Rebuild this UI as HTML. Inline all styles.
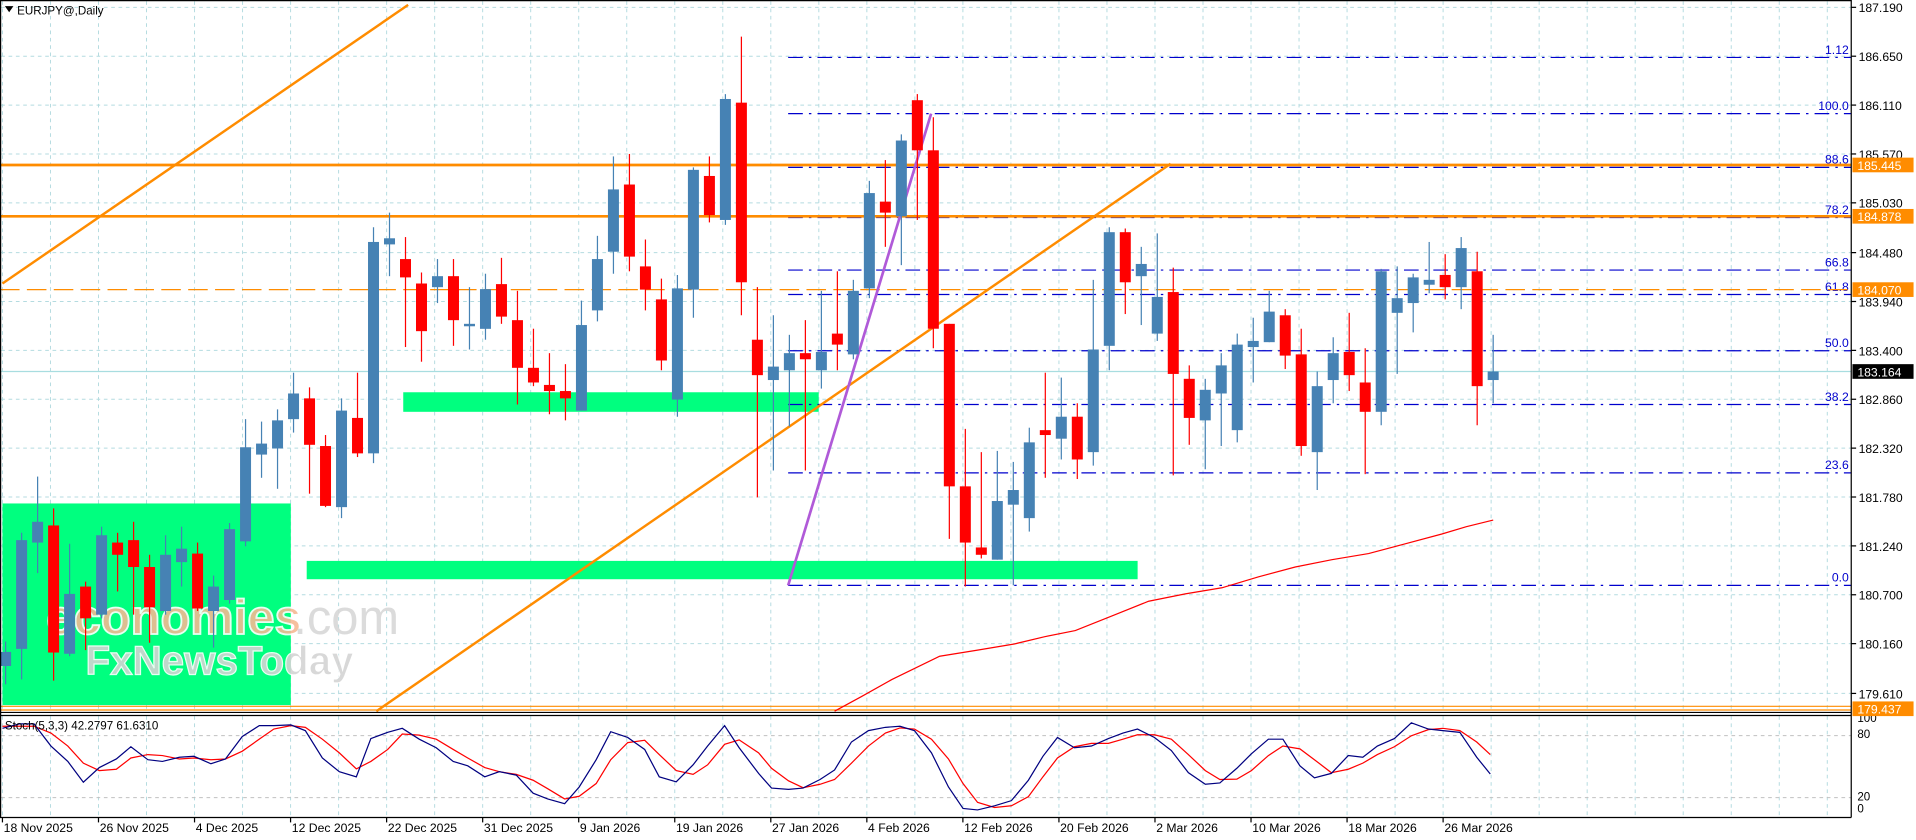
<!DOCTYPE html>
<html><head><meta charset="utf-8"><style>
html,body{margin:0;padding:0;background:#fff;overflow:hidden}
svg{display:block}
text{font-family:"Liberation Sans",sans-serif}
</style></head><body>
<svg id="c" xmlns="http://www.w3.org/2000/svg" width="1916" height="840" viewBox="0 0 1568 687.4" preserveAspectRatio="none">
<rect x="0" y="0" width="1568" height="687.4" fill="#fff"/>
<g id="grid"></g>
<rect x="2" y="412" width="236" height="165" fill="#00ff7f"/>
<rect x="251" y="459" width="680" height="15" fill="#00ff7f"/>
<rect x="330" y="321" width="340" height="16" fill="#00ff7f"/>
<g opacity="0.9">
<text x="38" y="519" font-size="40" font-weight="bold" fill="#f6b994" stroke="#fff" stroke-width="1.5">economies</text>
<text x="240" y="519" font-size="40" fill="#d8d8d8">.com</text>
<text x="70" y="552" font-size="33" font-weight="bold" fill="#d4d4d4" stroke="#fff" stroke-width="1">FxNewsToday</text>
</g>
<g id="fib"></g>
<line x1="0" y1="304" x2="1515" y2="304" stroke="#a8dde0" stroke-width="1"/>
<line x1="0" y1="135" x2="1515" y2="135" stroke="#ff8c00" stroke-width="2.2"/>
<line x1="0" y1="177" x2="1515" y2="177" stroke="#ff8c00" stroke-width="2.2"/>
<line x1="0" y1="237" x2="1515" y2="237" stroke="#ff8c00" stroke-width="1" stroke-dasharray="16,6"/>
<line x1="0" y1="578" x2="1515" y2="578" stroke="#ff8c00" stroke-width="1"/>
<line x1="0" y1="581" x2="1515" y2="581" stroke="#ff8c00" stroke-width="1"/>
<line x1="2" y1="232" x2="334" y2="4" stroke="#ff8c00" stroke-width="2"/>
<line x1="308" y1="582" x2="958" y2="134" stroke="#ff8c00" stroke-width="2"/>
<line x1="645" y1="479" x2="762" y2="93" stroke="#b05ad8" stroke-width="2.2"/>
<polyline fill="none" stroke="#ff0000" stroke-width="1" points="683,582 705,570 730,556 769,537 800,532 830,527 855,521 880,516 910,504 940,492 970,486 1000,481 1030,472 1060,464 1090,458 1120,453 1150,445 1180,437 1200,431 1222,425.6"/>
<g id="candles"></g>
<g id="stoch"></g>
<line x1="0.5" y1="0" x2="0.5" y2="669" stroke="#000"/>
<line x1="0" y1="0.5" x2="1515" y2="0.5" stroke="#000"/>
<line x1="1515" y1="0" x2="1515" y2="669" stroke="#000"/>
<line x1="0" y1="583" x2="1515" y2="583" stroke="#000"/>
<line x1="0" y1="585.5" x2="1515" y2="585.5" stroke="#000"/>
<line x1="0" y1="669" x2="1515" y2="669" stroke="#000"/>
<polygon points="4,5 11,5 7.5,10" fill="#000"/>
<text x="14" y="12" font-size="9.5" fill="#000">EURJPY@,Daily</text>
<text x="4" y="597" font-size="9.5" fill="#000">Stoch(5,3,3) 42.2797 61.6310</text>
<g id="axis"></g>
</svg>
<script>
const NS="http://www.w3.org/2000/svg";
function el(p,t,a,txt){const e=document.createElementNS(NS,t);for(const k in a)e.setAttribute(k,a[k]);if(txt!==undefined)e.textContent=txt;document.getElementById(p).appendChild(e);return e;}
const yP=p=>6+(187.19-p)*74.07;
const vx=[];for(let i=0;i<40;i++){const x=2+39.3*i;if(x<1515)vx.push(x);}
vx.forEach(x=>{el("grid","line",{x1:x,y1:1,x2:x,y2:582,stroke:"#b4dbe0","stroke-dasharray":"3,3","stroke-width":0.8});el("grid","line",{x1:x,y1:586,x2:x,y2:668,stroke:"#b4dbe0","stroke-dasharray":"3,3","stroke-width":0.8});});
const prices=[187.19,186.65,186.11,185.57,185.03,184.48,183.94,183.40,182.86,182.32,181.78,181.24,180.70,180.16,179.61];
prices.forEach(p=>{const y=yP(p);el("grid","line",{x1:1,y1:y,x2:1515,y2:y,stroke:"#b4dbe0","stroke-dasharray":"3,3","stroke-width":0.8});
el("axis","line",{x1:1515,y1:y,x2:1519,y2:y,stroke:"#000"});
el("axis","text",{x:1521,y:y+4,"font-size":"10",fill:"#000"},p.toFixed(3));});
[602,652.7].forEach(y=>el("grid","line",{x1:1,y1:y,x2:1515,y2:y,stroke:"#c0c0c0","stroke-dasharray":"3,3","stroke-width":0.8}));
[["100",591],["80",604],["20",655],["0",665]].forEach(a=>el("axis","text",{x:1520,y:a[1],"font-size":"9.5",fill:"#000"},a[0]));
[["185.445",135,"#ff8c00"],["184.878",177,"#ff8c00"],["184.070",237,"#ff8c00"],["183.164",304,"#000"],["179.437",580,"#ff8c00"]].forEach(a=>{
el("axis","rect",{x:1516,y:a[1]-6,width:50,height:12,fill:a[2]});
el("axis","text",{x:1520,y:a[1]+4,"font-size":"10",fill:"#fff"},a[0]);});
[["1.12",47],["100.0",93],["88.6",137],["78.2",178],["66.8",221],["61.8",241],["50.0",287],["38.2",331],["23.6",387],["0.0",479]].forEach(a=>{
el("fib","line",{x1:645,y1:a[1],x2:1515,y2:a[1],stroke:"#0000cd","stroke-width":1,"stroke-dasharray":"12,5,2,5"});
el("fib","text",{x:1513,y:a[1]-3,"font-size":"10","text-anchor":"end",fill:"#0000cd"},a[0]);});
const dl=["18 Nov 2025","26 Nov 2025","4 Dec 2025","12 Dec 2025","22 Dec 2025","31 Dec 2025","9 Jan 2026","19 Jan 2026","27 Jan 2026","4 Feb 2026","12 Feb 2026","20 Feb 2026","2 Mar 2026","10 Mar 2026","18 Mar 2026","26 Mar 2026"];
dl.forEach((d,i)=>{const x=2+78.6*i;el("axis","line",{x1:x,y1:669,x2:x,y2:673,stroke:"#000"});el("axis","text",{x:x+1,y:681,"font-size":"10",fill:"#000"},d);});
const C=[
["b",533.5,545,525,560],["b",442,531,436,556],["b",427,444,390,469],["r",430,534,416,557],["b",486,535,445,537],
["r",480,506,476,532],["b",438,503,431,506],["r",444,454,436,484],["r",442,464,427,503],["r",464,497,454,526],
["b",454,500,438,503],["b",449,460,431,480],["r",453,498,444,500],["b",480,500,471,530],["b",433,491,428,494],
["b",366,443,343,447],["b",363,372,345,391],["b",344,367,335,400],["b",322,343,305,354],["r",326,364,317,404],
["r",365,414,356,415],["b",336,415,326,424],["r",342,371,305,374],["b",198,371,186,379],["b",195,200,174,226],
["r",212,227,194,284],["r",232,271,223,296],["b",226,235,212,248],["r",226,262,212,283],["b",265,267,235,286],
["b",236.6,269.1,224,278],["r",232.5,259.1,211,265],["r",262,301,238,331],["r",301,313,269,316],["r",315,320,289,339],
["r",320,326,298,344],["b",266,336,246,336],["b",212,254,193,263],["b",155,206,128,224],["r",151,210,126,222],
["r",218,237,196,254],["r",245,295,228,303],["b",236,327,225,341],["b",139,237,137,260],["r",144,176,128,182],
["b",81,180,77,184],["r",84,231,30,258],["r",278,307,235,407],["b",300,311,258,385],["b",289,303,274,349],
["r",289,294,262,385],["b",288,303,238,318],["r",273,282,222,303],["b",238,290,229,294],["b",158,236,148,244],
["r",165,174,131,202],["b",115,177,110,217],["r",82,123,77,180],["r",123,269,96,285],["r",265,398,265,441],
["r",398,444,351,480],["r",448,454,370,457],["b",410,458,369,458],["b",401,413,378,479],["b",362,424,350,435],
["r",352,356,305,391],["b",341,359,309,376],["r",341,376,330,392],["b",286,370,229,381],["b",190,283,186,303],
["r",190,231,187,257],["b",216,226,202,266],["b",243,273,191,279],["r",239,306,219,389],["r",310,342,299,364],
["b",319,344,310,384],["b",299,322,289,365],["b",282,352,273,362],["b",279,284,260,313],["b",255,280,238,280],
["r",258,291,253,302],["r",290,365,269,373],["b",316,370,304,401],["b",289,311,276,330],["r",288,307,256,320],
["r",313,337,285,388],["b",222,337,220,348],["b",244,256,218,306],["b",227,248,224,272],["b",229,233,198,240],
["r",225,235,208,245],["b",203,235,194,253],["r",222,316,206,348],["b",304,311,274,330]];
C.forEach((c,i)=>{const x=4.6+13.09*i;const col=c[0]=="b"?"#4682b4":"#ff0000";
el("candles","line",{x1:x,y1:c[3],x2:x,y2:c[4],stroke:col,"stroke-width":1});
el("candles","rect",{x:x-4.5,y:c[1],width:9,height:Math.max(1.5,c[2]-c[1]),fill:col});});
const b5=[[5,68],[40,55],[70,55],[105,120],[140,165],[172,226],[205,183],[240,158],[270,122],[305,160],[335,165],[370,153],[400,150],[435,172],[465,158],[500,92],[535,60],[565,60],[600,58],[630,75],[665,155],[700,195],[735,210],[765,98],[800,80],[830,68],[865,100],[900,125],[935,165],[965,178],[1000,210],[1030,195],[1065,205],[1100,258],[1130,275],[1165,289],[1195,240],[1230,160],[1260,78],[1295,95],[1330,130],[1360,210],[1395,225],[1430,175],[1460,120],[1495,60],[1525,125],[1565,200]];
const r5=[[5,62],[40,62],[70,62],[105,82],[140,120],[172,170],[205,192],[240,188],[270,155],[305,145],[335,148],[370,158],[400,155],[435,160],[465,158],[500,135],[535,100],[565,70],[600,60],[630,65],[665,100],[700,140],[735,187],[765,165],[800,130],[830,85],[865,88],[900,100],[935,130],[965,155],[1000,183],[1030,195],[1065,203],[1100,220],[1130,245],[1165,275],[1195,267],[1230,230],[1260,160],[1295,110],[1330,103],[1360,145],[1395,192],[1430,203],[1460,175],[1495,115],[1525,102],[1565,140]];
const b6=[[30,185],[65,243],[100,247],[130,243],[165,218],[195,190],[230,108],[265,75],[300,65],[330,62],[360,75],[395,140],[430,240],[460,303],[490,307],[525,295],[560,280],[595,220],[625,150],[655,95],[690,125],[725,120],[760,98],[790,82],[820,70],[855,95],[890,133],[925,198],[960,232],[990,228],[1025,185],[1055,143],[1090,100],[1120,100],[1155,178],[1185,213],[1220,200],[1255,148],[1285,153],[1315,120],[1350,98],[1385,52],[1420,70],[1450,75],[1485,80],[1520,153],[1548,202]];
const r6=[[30,120],[65,185],[100,222],[130,242],[165,232],[195,218],[230,170],[265,120],[300,82],[330,67],[360,70],[395,100],[430,158],[460,230],[490,285],[525,300],[560,295],[595,268],[625,210],[655,155],[690,122],[725,112],[760,112],[790,100],[820,87],[855,87],[890,100],[925,145],[960,192],[990,218],[1025,217],[1055,192],[1090,148],[1120,120],[1155,128],[1185,160],[1220,198],[1255,188],[1285,170],[1315,145],[1350,122],[1385,90],[1420,72],[1450,68],[1485,75],[1520,108],[1548,145]];
const Y=zy=>zy/3.58+577;
function pts(a5,a6){const o=[];a5.forEach(p=>o.push([p[0]/2.521,Y(p[1])]));a6.forEach(p=>{const x=p[0]/2.521+605.6;if(x>o[o.length-1][0])o.push([x,Y(p[1])]);});return o.map(p=>p[0].toFixed(1)+","+p[1].toFixed(1)).join(" ");}
el("stoch","polyline",{points:pts(r5,r6),fill:"none",stroke:"#ff0000","stroke-width":1});
el("stoch","polyline",{points:pts(b5,b6),fill:"none",stroke:"#000080","stroke-width":1});
</script>
</body></html>
